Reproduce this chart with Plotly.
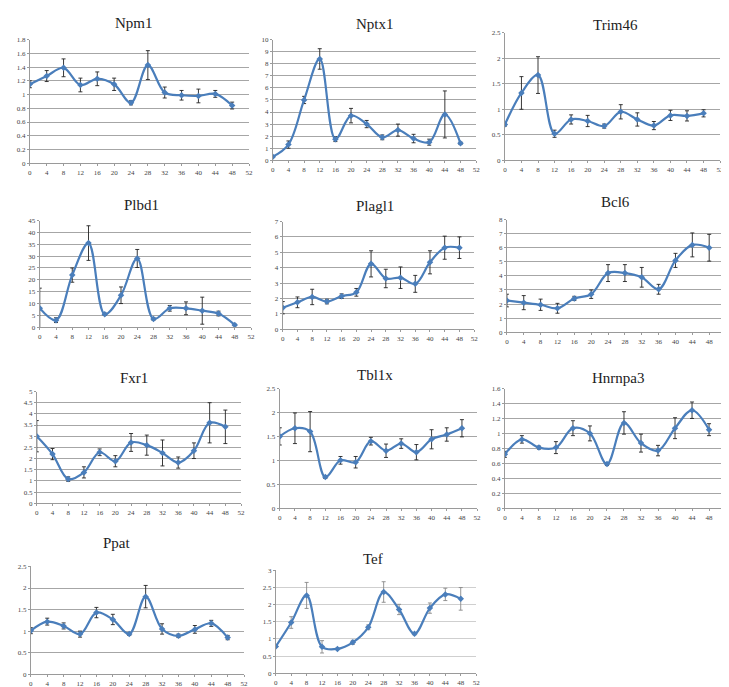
import plotly.graph_objects as go

hours = [0, 4, 8, 12, 16, 20, 24, 28, 32, 36, 40, 44, 48]
x_ticks = [0, 4, 8, 12, 16, 20, 24, 28, 32, 36, 40, 44, 48, 52]

genes = ["Npm1", "Nptx1", "Trim46", "Plbd1", "Plagl1", "Bcl6",
         "Fxr1", "Tbl1x", "Hnrnpa3", "Ppat", "Tef"]

npm1_mean = [1.15, 1.27, 1.39, 1.14, 1.23, 1.15, 0.88, 1.43, 1.03, 0.99, 0.98, 1.01, 0.84]
npm1_err = [0.05, 0.08, 0.13, 0.10, 0.10, 0.09, 0.03, 0.21, 0.08, 0.07, 0.10, 0.05, 0.05]

nptx1_mean = [0.3, 1.3, 5.0, 8.4, 1.75, 3.7, 3.0, 1.9, 2.5, 1.8, 1.5, 3.8, 1.4]
nptx1_err = [0.05, 0.3, 0.3, 0.85, 0.2, 0.6, 0.3, 0.2, 0.5, 0.35, 0.25, 1.95, 0.1]

trim46_mean = [0.70, 1.32, 1.67, 0.52, 0.80, 0.77, 0.67, 0.95, 0.80, 0.68, 0.88, 0.87, 0.92]
trim46_err = [0.03, 0.32, 0.36, 0.07, 0.09, 0.11, 0.04, 0.14, 0.13, 0.08, 0.10, 0.10, 0.07]

plbd1_mean = [8.0, 3.0, 22.0, 35.5, 5.5, 13.5, 29.0, 3.5, 8.0, 8.0, 7.0, 5.8, 1.0]
plbd1_err = [8.5, 1.0, 3.0, 7.3, 0.5, 3.5, 3.8, 0.5, 1.2, 2.7, 5.7, 1.0, 0.3]

plagl1_mean = [1.4, 1.75, 2.1, 1.8, 2.15, 2.4, 4.25, 3.3, 3.35, 2.95, 4.35, 5.3, 5.3]
plagl1_err = [0.4, 0.35, 0.5, 0.15, 0.15, 0.25, 0.85, 0.6, 0.7, 0.55, 0.75, 0.75, 0.7]

bcl6_mean = [2.25, 2.1, 1.95, 1.7, 2.4, 2.7, 4.2, 4.2, 3.9, 3.05, 5.1, 6.2, 6.0]
bcl6_err = [0.45, 0.5, 0.4, 0.35, 0.15, 0.3, 0.6, 0.6, 0.7, 0.35, 0.5, 0.85, 0.95]

fxr1_mean = [3.0, 2.2, 1.08, 1.38, 2.28, 1.88, 2.72, 2.6, 2.25, 1.82, 2.35, 3.6, 3.42]
fxr1_err = [0.7, 0.25, 0.1, 0.25, 0.15, 0.25, 0.4, 0.45, 0.58, 0.25, 0.35, 0.9, 0.75]

tbl1x_mean = [1.5, 1.67, 1.6, 0.65, 1.0, 0.96, 1.4, 1.2, 1.35, 1.17, 1.44, 1.54, 1.67]
tbl1x_err = [0.18, 0.32, 0.42, 0.03, 0.08, 0.12, 0.08, 0.14, 0.1, 0.16, 0.2, 0.14, 0.18]

hnrnpa3_mean = [0.72, 0.92, 0.81, 0.81, 1.07, 1.0, 0.59, 1.14, 0.87, 0.77, 1.07, 1.31, 1.05]
hnrnpa3_err = [0.04, 0.05, 0.02, 0.08, 0.1, 0.1, 0.02, 0.15, 0.12, 0.07, 0.14, 0.11, 0.08]

ppat_mean = [1.01, 1.22, 1.12, 0.93, 1.43, 1.27, 0.93, 1.8, 1.05, 0.89, 1.04, 1.18, 0.85]
ppat_err = [0.07, 0.08, 0.07, 0.07, 0.12, 0.12, 0.03, 0.26, 0.12, 0.04, 0.09, 0.07, 0.05]

tef_mean = [0.78, 1.48, 2.27, 0.77, 0.71, 0.9, 1.34, 2.37, 1.86, 1.15, 1.9, 2.3, 2.17]
tef_err = [0.02, 0.17, 0.38, 0.18, 0.02, 0.06, 0.07, 0.3, 0.15, 0.03, 0.15, 0.18, 0.33]

y_max = [1.8, 10, 2.5, 45, 7, 8, 5, 2.5, 1.6, 2.5, 3]
y_step = [0.2, 1, 0.5, 5, 1, 1, 0.5, 0.5, 0.2, 0.5, 0.5]

means = [npm1_mean, nptx1_mean, trim46_mean, plbd1_mean, plagl1_mean, bcl6_mean,
         fxr1_mean, tbl1x_mean, hnrnpa3_mean, ppat_mean, tef_mean]
errs = [npm1_err, nptx1_err, trim46_err, plbd1_err, plagl1_err, bcl6_err,
        fxr1_err, tbl1x_err, hnrnpa3_err, ppat_err, tef_err]

# pixel layout of each panel: (x at 0, x at 52, y top, y bottom, title x, title y)
W, H = 729, 687
panels = [
    (20, 241, 28, 153, 125, 11),
    (265, 470, 28, 150, 368, 12),
    (499, 716, 21, 150, 611, 13),
    (30, 243, 211, 319, 133, 195),
    (275, 468, 212, 321, 368, 196),
    (501, 722, 210, 324, 611, 192),
    (27, 233, 384, 497, 125, 370),
    (272, 471, 381, 502, 368, 367),
    (499, 722, 381, 502, 614, 370),
    (21, 236, 561, 670, 108, 537),
    (268, 470, 565, 669, 366, 553),
]

LINE = "#4a7ebb"
SERIF = "Liberation Serif, DejaVu Serif, serif"

fig = go.Figure()
annotations = []
layout = {}
for i, g in enumerate(genes):
    x0, x1, yt, yb, tx, ty = panels[i]
    n = "" if i == 0 else str(i + 1)
    light = (g == "Tef")
    fig.add_trace(go.Scatter(
        x=hours, y=means[i],
        mode="lines+markers",
        line=dict(color=LINE, width=2.2, shape="spline", smoothing=1.0),
        marker=dict(symbol="diamond", size=5, color=LINE),
        error_y=dict(type="data", array=errs[i], visible=True,
                     color="#888888" if light else "#222222",
                     thickness=0.9, width=2),
        xaxis="x" + n, yaxis="y" + n, showlegend=False, hoverinfo="skip",
    ))
    grid = "#cfcfcf" if light else "#a6a6a6"
    layout["xaxis" + n] = dict(
        domain=[x0 / W, x1 / W], range=[0, 52], anchor="y" + n,
        tickvals=x_ticks, ticktext=[str(t) for t in x_ticks],
        showgrid=False, zeroline=False, showline=True, linecolor="#9a9a9a",
        linewidth=1, ticks="outside", ticklen=2, tickcolor="#9a9a9a",
        tickfont=dict(family=SERIF, size=7, color="#444444"),
        fixedrange=True,
    )
    layout["yaxis" + n] = dict(
        domain=[1 - yb / H, 1 - yt / H], range=[0, y_max[i]], anchor="x" + n,
        dtick=y_step[i], tick0=0,
        showgrid=True, gridcolor=grid, gridwidth=1,
        zeroline=False, showline=True, linecolor="#9a9a9a", linewidth=1,
        ticks="outside", ticklen=2, tickcolor="#9a9a9a",
        tickfont=dict(family=SERIF, size=7, color="#444444"),
        fixedrange=True,
    )
    annotations.append(dict(
        text=g, x=tx / W, y=1 - ty / H, xref="paper", yref="paper",
        showarrow=False, xanchor="center", yanchor="middle",
        font=dict(family=SERIF, size=15, color="#222222"),
    ))

fig.update_layout(
    width=W, height=H,
    margin=dict(l=0, r=0, t=0, b=0),
    paper_bgcolor="white", plot_bgcolor="white",
    annotations=annotations,
    **layout,
)

fig.write_html("out.html")
